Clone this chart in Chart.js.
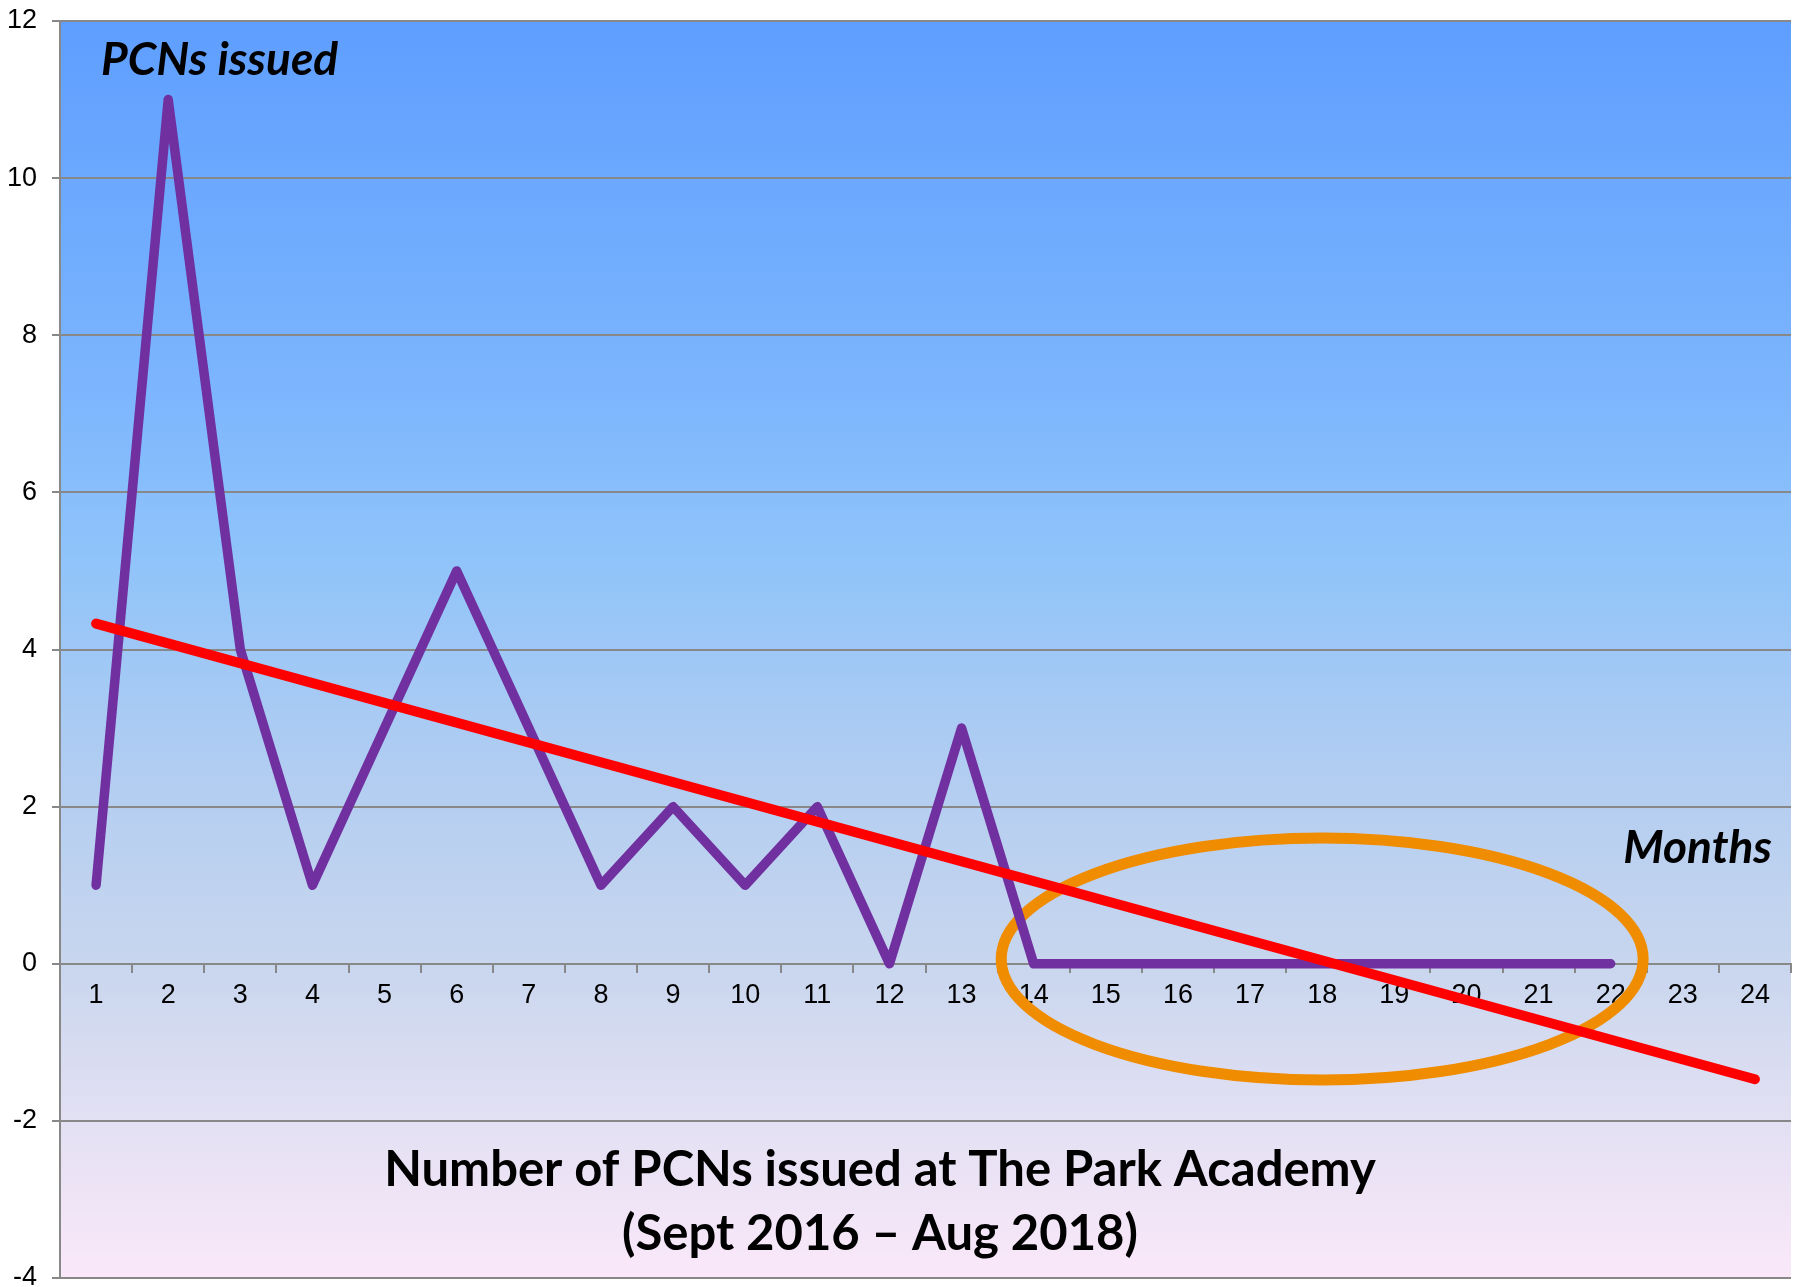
<!DOCTYPE html>
<html>
<head>
<meta charset="utf-8">
<script src="https://cdn.jsdelivr.net/npm/chart.js@4.4.1/dist/chart.umd.min.js"></script>
<style>
  html, body { margin: 0; padding: 0; background: #fff; }
  #wrap { width: 1796px; height: 1287px; }
</style>
</head>
<body>
<div id="wrap"><canvas id="chart"></canvas></div>
<script>
const months = ['1','2','3','4','5','6','7','8','9','10','11','12',
                '13','14','15','16','17','18','19','20','21','22','23','24'];
const pcnsIssued = [1, 11, 4, 1, 3, 5, 3, 1, 2, 1, 2, 0,
                    3, 0, 0, 0, 0, 0, 0, 0, 0, 0, null, null];
// trend line: start at month 1, end at month 24
const trendLine = [4.33, null, null, null, null, null, null, null, null, null, null, null,
                   null, null, null, null, null, null, null, null, null, null, null, -1.47];
const yMin = -4;
const yMax = 12;
const yStep = 2;

// orange ring round the zero months
const ringMonth = 17;      // index of month 18
const ringValue = 0.06;
const ringRadiusMonths = 4.45;
const ringRadiusValue = 1.54;

const bgPlugin = {
  id: 'bg',
  beforeDraw(chart) {
    const {ctx, chartArea: a} = chart;
    const g = ctx.createLinearGradient(0, a.top, 0, a.bottom);
    g.addColorStop(0, '#5e9eff');
    g.addColorStop(0.3, '#7db6fd');
    g.addColorStop(0.42, '#8ec3fa');
    g.addColorStop(0.6, '#b2cdf1');
    g.addColorStop(0.75, '#c8d6ee');
    g.addColorStop(0.875, '#e3e0f3');
    g.addColorStop(1, '#fae8f9');
    ctx.save();
    ctx.fillStyle = g;
    ctx.fillRect(a.left, a.top, a.right - a.left, a.bottom - a.top);
    ctx.restore();
  }
};

const ringPlugin = {
  id: 'ring',
  beforeDatasetsDraw(chart) {
    const {ctx, scales: {x, y}} = chart;
    const cx = x.getPixelForValue(ringMonth);
    const cy = y.getPixelForValue(ringValue);
    const rx = ringRadiusMonths * (x.getPixelForValue(1) - x.getPixelForValue(0));
    const ry = y.getPixelForValue(0) - y.getPixelForValue(ringRadiusValue);
    ctx.save();
    ctx.strokeStyle = '#f08c00';
    ctx.lineWidth = 11;
    ctx.beginPath();
    ctx.ellipse(cx, cy, rx, ry, 0, 0, Math.PI * 2);
    ctx.stroke();
    ctx.restore();
  }
};

const textPlugin = {
  id: 'texts',
  afterDraw(chart) {
    const {ctx, chartArea: a} = chart;
    ctx.save();
    ctx.fillStyle = '#000';
    ctx.textBaseline = 'middle';
    ctx.font = 'italic bold 46px Lato';
    ctx.textAlign = 'left';
    ctx.fillText('PCNs issued', a.left + 41, 60);
    ctx.textAlign = 'right';
    ctx.fillText('Months', a.right - 19, 848);
    ctx.font = 'bold 49px Lato';
    ctx.textAlign = 'center';
    ctx.fillText('Number of PCNs issued at The Park Academy', 880, 1170);
    ctx.fillText('(Sept 2016 \u2013 Aug 2018)', 880, 1234);
    ctx.restore();
  }
};

// keep the axis labels from pushing the plot area in
function noPadding(scale) {
  scale.paddingTop = 0;
  scale.paddingBottom = 0;
  scale.paddingLeft = 0;
  scale.paddingRight = 0;
}

new Chart(document.getElementById('chart'), {
  type: 'line',
  data: {
    labels: months,
    datasets: [
      {
        label: 'Trend',
        data: trendLine,
        spanGaps: true,
        borderColor: '#ff0000',
        borderWidth: 10,
        borderCapStyle: 'round',
        pointRadius: 0,
        order: 0
      },
      {
        label: 'PCNs issued',
        data: pcnsIssued,
        borderColor: '#7030a0',
        borderWidth: 9.5,
        borderCapStyle: 'round',
        borderJoinStyle: 'round',
        pointRadius: 0,
        order: 1
      }
    ]
  },
  options: {
    responsive: true,
    maintainAspectRatio: false,
    animation: false,
    layout: { padding: { top: 21, bottom: 9, right: 5, left: 0 } },
    plugins: {
      legend: { display: false },
      title: { display: false },
      tooltip: { enabled: false }
    },
    scales: {
      x: {
        position: { y: 0 },
        offset: true,
        afterFit: noPadding,
        grid: {
          offset: true,
          drawOnChartArea: false,
          drawTicks: true,
          tickLength: 8,
          color: '#888',
          lineWidth: 2
        },
        border: { display: true, color: '#888', width: 2 },
        ticks: {
          color: '#000',
          padding: 8,
          maxRotation: 0,
          autoSkip: false,
          font: { family: 'Liberation Sans', size: 27 }
        }
      },
      y: {
        min: yMin,
        max: yMax,
        afterFit(scale) {
          scale.width = 60;
          noPadding(scale);
        },
        grid: {
          color: '#888',
          lineWidth: 2,
          tickLength: 8
        },
        border: { display: true, color: '#888', width: 2 },
        ticks: {
          stepSize: yStep,
          color: '#000',
          padding: 15,
          font: { family: 'Liberation Sans', size: 27 }
        }
      }
    }
  },
  plugins: [bgPlugin, ringPlugin, textPlugin]
});
</script>
</body>
</html>
